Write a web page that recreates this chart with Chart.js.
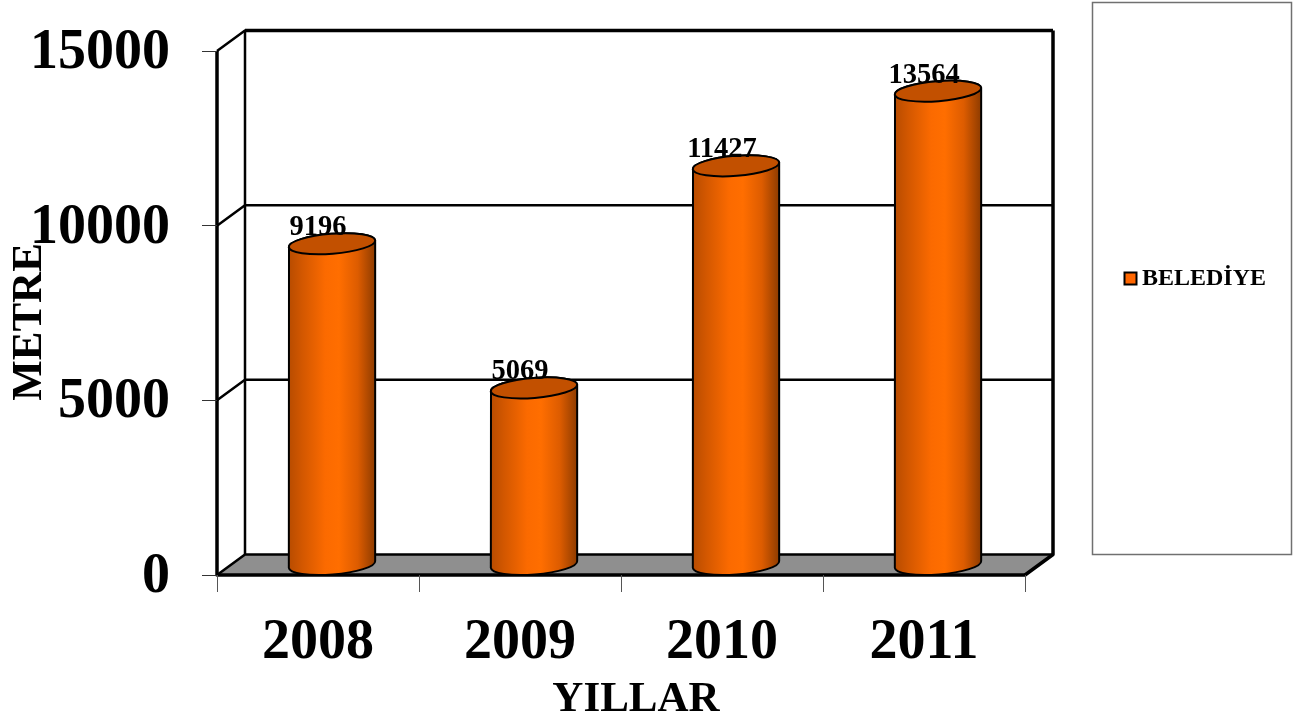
<!DOCTYPE html>
<html><head><meta charset="utf-8">
<style>html,body{margin:0;padding:0;background:#fff}canvas{display:block}</style>
<script src="https://cdn.jsdelivr.net/npm/chart.js@4"></script>
</head><body>
<canvas id="c" width="1297" height="722"></canvas>
<script>
const categories = ["2008","2009","2010","2011"];
const seriesName = "BELEDİYE";
const metreValues = [9196,5069,11427,13564];
const yTicks = [0,5000,10000,15000];
const xAxisTitle = "YILLAR";
const yAxisTitle = "METRE";

const SERIF = '"Liberation Serif","Times New Roman",serif';
const DEPTH_X = 28, DEPTH_Y = -20.5;

const cylinders = {
  id:'cylinders',
  beforeDraw(chart){
    const {ctx,chartArea:a,scales:{y}} = chart;
    ctx.save();
    const L=a.left,R=a.right,B=a.bottom,T=a.top;
    // floor
    ctx.beginPath();ctx.moveTo(L,B);ctx.lineTo(L+DEPTH_X,B+DEPTH_Y);ctx.lineTo(R+DEPTH_X,B+DEPTH_Y);ctx.lineTo(R,B);ctx.closePath();
    ctx.fillStyle='#8f8f8f';ctx.fill();
    ctx.strokeStyle='#000';ctx.lineJoin='round';
    ctx.lineWidth=2.5;
    // grid on back & side walls
    yTicks.forEach(v=>{
      const p=y.getPixelForValue(v);
      ctx.beginPath();ctx.moveTo(L,p);ctx.lineTo(L+DEPTH_X,p+DEPTH_Y);ctx.lineTo(R+DEPTH_X,p+DEPTH_Y);ctx.stroke();
    });
    // verticals
    ctx.beginPath();ctx.moveTo(L+DEPTH_X,T+DEPTH_Y);ctx.lineTo(L+DEPTH_X,B+DEPTH_Y);ctx.stroke();
    ctx.lineWidth=3.5;
    ctx.beginPath();ctx.moveTo(R+DEPTH_X,T+DEPTH_Y);ctx.lineTo(R+DEPTH_X,B+DEPTH_Y);ctx.lineTo(R,B);ctx.stroke();
    ctx.beginPath();ctx.moveTo(L,T);ctx.lineTo(L,B);ctx.lineTo(R,B);ctx.stroke();
    ctx.beginPath();ctx.moveTo(L+DEPTH_X,T+DEPTH_Y);ctx.lineTo(R+DEPTH_X,T+DEPTH_Y);ctx.stroke();
    ctx.restore();
  },
  beforeDatasetDraw(chart,args){
    const {ctx} = chart;
    const meta = args.meta;
    const tilt = -4.5*Math.PI/180, ry = 10;
    meta.data.forEach(el=>{
      const {x,y,base,width} = el.getProps(['x','y','base','width'],true);
      const cx = x+14, hw = width/2, rx = hw+0.3;
      const top = y-10, bot = base-10;
      const dy = hw*Math.tan(tilt);
      const g = ctx.createLinearGradient(cx-hw,0,cx+hw,0);
      g.addColorStop(0,'#b84c00');g.addColorStop(0.15,'#d25700');g.addColorStop(0.42,'#fb6a00');
      g.addColorStop(0.58,'#ff6e00');g.addColorStop(0.8,'#dd5c00');g.addColorStop(1,'#8f3c00');
      ctx.save();
      ctx.lineWidth=2;ctx.strokeStyle='#000';
      ctx.beginPath();
      ctx.ellipse(cx,bot,rx,ry,tilt,0,Math.PI);
      ctx.lineTo(cx-hw,top-dy);
      ctx.ellipse(cx,top,rx,ry,tilt,Math.PI,0,false);
      ctx.closePath();
      ctx.fillStyle=g;ctx.fill();ctx.stroke();
      ctx.beginPath();ctx.ellipse(cx,top,rx,ry,tilt,0,Math.PI*2);
      ctx.fillStyle='#c25000';ctx.fill();ctx.stroke();
      ctx.restore();
    });
    return false;
  },
  afterDatasetsDraw(chart){
    const {ctx} = chart;
    const meta = chart.getDatasetMeta(0);
    ctx.save();
    ctx.fillStyle='#000';ctx.textAlign='center';ctx.textBaseline='middle';
    ctx.font='bold 28.5px '+SERIF;
    meta.data.forEach((el,i)=>{
      ctx.fillText(String(metreValues[i]),el.x,el.y-26);
    });
    // axis titles
    ctx.font='bold 43px '+SERIF;
    ctx.fillText(xAxisTitle,636,700);
    ctx.save();ctx.translate(30,322);ctx.rotate(-Math.PI/2);ctx.font='bold 43px '+SERIF;ctx.fillText(yAxisTitle,0,0);ctx.restore();
    // legend
    ctx.strokeStyle='#707070';ctx.lineWidth=1.5;
    ctx.strokeRect(1092.5,2.5,199,552);
    ctx.fillStyle='#ff6600';ctx.strokeStyle='#000';ctx.lineWidth=2;
    ctx.fillRect(1124.5,272.5,12,12);ctx.strokeRect(1124.5,272.5,12,12);
    ctx.fillStyle='#000';ctx.textAlign='left';ctx.font='bold 24px '+SERIF;
    ctx.fillText(seriesName,1142,279);
    ctx.restore();
  }
};

new Chart(document.getElementById('c'),{
  type:'bar',
  data:{labels:categories,datasets:[{label:seriesName,data:metreValues,backgroundColor:'#ff6600',borderColor:'#000',barPercentage:86/202,categoryPercentage:1}]},
  plugins:[cylinders],
  options:{
    responsive:false,animation:false,devicePixelRatio:1,
    layout:{padding:{top:51,right:272,left:0,bottom:0}},
    plugins:{legend:{display:false},title:{display:false},tooltip:{enabled:false}},
    scales:{
      x:{
        afterFit(s){s.height=147;s.paddingLeft=0;s.paddingRight=0;},
        border:{display:false},
        grid:{drawOnChartArea:false,drawTicks:true,tickLength:17,color:'#555',lineWidth:1},
        ticks:{color:'#000',padding:18,maxRotation:0,font:{family:SERIF,size:56,weight:'bold'}}
      },
      y:{
        min:0,max:15000,
        afterFit(s){s.width=217;s.paddingTop=0;s.paddingBottom=0;},
        afterBuildTicks(s){s.ticks=yTicks.map(v=>({value:v}));},
        border:{display:false},
        grid:{drawOnChartArea:false,drawTicks:true,tickLength:15,color:'#333',lineWidth:1},
        ticks:{color:'#000',padding:32,labelOffset:2.5,font:{family:SERIF,size:56,weight:'bold'},callback:v=>String(v)}
      }
    }
  }
});
</script>
</body></html>
